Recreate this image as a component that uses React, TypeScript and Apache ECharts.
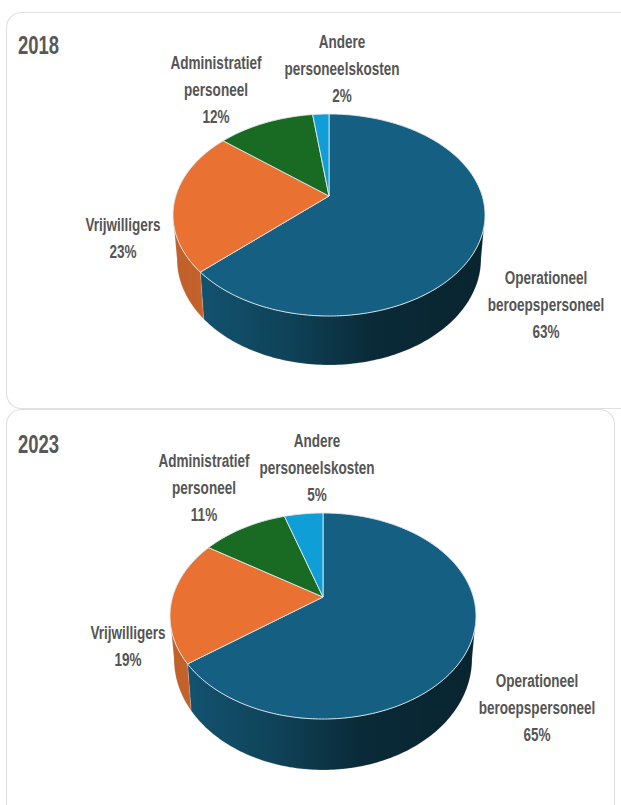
import React, { useEffect, useRef } from "react";
import * as echarts from "echarts";

const categories = [
  "Operationeel\nberoepspersoneel",
  "Vrijwilligers",
  "Administratief\npersoneel",
  "Andere\npersoneelskosten",
];
const values2018 = [63, 23, 12, 2];
const values2023 = [65, 19, 11, 5];
const topColors = ["#156082", "#E97132", "#196B24", "#0F9ED5"];
const FONT = "'Liberation Sans Narrow', 'Liberation Sans', sans-serif";

const geo2018 = {
  cx: 329, cy: 215, rx: 156, ry: 101, vy: 196, s: 0.63,
  bcy: 259, brx: 152, bry: 106,
  title: { text: "2018", x: 18, y: 45 },
  labels: [[546, 305], [123, 238], [216, 90], [342, 69]],
};
const geo2023 = {
  cx: 323, cy: 616, rx: 153, ry: 103, vy: 597, s: 0.68,
  bcy: 659, brx: 149, bry: 111,
  title: { text: "2023", x: 18, y: 444 },
  labels: [[537, 708], [128, 646], [204, 488], [317, 468]],
};

function sideFill(i: number) {
  if (i === 0)
    return new echarts.graphic.LinearGradient(0, 0, 1, 0, [
      { offset: 0, color: "#13526f" },
      { offset: 0.3, color: "#0f4359" },
      { offset: 0.6, color: "#0a2a38" },
      { offset: 1, color: "#08242f" },
    ]);
  if (i === 1)
    return new echarts.graphic.LinearGradient(0, 0, 1, 0, [
      { offset: 0, color: "#c0602c" },
      { offset: 1, color: "#c5622a" },
    ]);
  return i === 2 ? "#124d1a" : "#0b7299";
}

function angles(values: number[], g: typeof geo2018) {
  const total = values.reduce((a, b) => a + b, 0);
  const phiAt = (frac: number) => {
    const th = frac * Math.PI * 2;
    const dx = Math.sin(th) / g.rx;
    const dy = (-Math.cos(th) * g.s) / g.ry;
    const oy = (g.vy - g.cy) / g.ry;
    const A = dx * dx + dy * dy;
    const B = 2 * oy * dy;
    const C = oy * oy - 1;
    const t = (-B + Math.sqrt(B * B - 4 * A * C)) / (2 * A);
    return Math.atan2(oy + t * dy, t * dx);
  };
  const out: number[] = [];
  let acc = 0;
  let prev = -Math.PI / 2;
  out.push(prev);
  values.forEach((v) => {
    acc += v;
    let p = phiAt(acc / total);
    while (p < prev - 1e-6) p += Math.PI * 2;
    out.push(acc === total ? Math.PI * 1.5 : p);
    prev = p;
  });
  return out;
}

function arcPts(cx: number, cy: number, rx: number, ry: number, a: number, b: number) {
  const n = Math.max(2, Math.ceil(Math.abs(b - a) / 0.02));
  const pts: number[][] = [];
  for (let i = 0; i <= n; i++) {
    const f = a + ((b - a) * i) / n;
    pts.push([cx + rx * Math.cos(f), cy + ry * Math.sin(f)]);
  }
  return pts;
}

function seriesFor(values: number[], g: typeof geo2018) {
  const phis = angles(values, g);
  const rows = values.map((v, i) => ({ name: categories[i], value: [v, i] }));
  const sides = {
    type: "custom",
    coordinateSystem: "none",
    silent: true,
    z: 2,
    data: rows,
    renderItem: (_p: any, api: any) => {
      const i = api.value(1);
      const a = Math.max(phis[i], 0);
      const b = Math.min(phis[i + 1], Math.PI);
      if (b <= a) return { type: "group", children: [] };
      const top = arcPts(g.cx, g.cy, g.rx, g.ry, a, b);
      const bot = arcPts(g.cx, g.bcy, g.brx, g.bry, a, b).reverse();
      return {
        type: "polygon",
        shape: { points: top.concat(bot) },
        style: { fill: sideFill(i), stroke: "rgba(255,255,255,0.35)", lineWidth: 0.5 },
      };
    },
  };
  const tops = {
    type: "custom",
    coordinateSystem: "none",
    silent: true,
    z: 3,
    data: rows,
    renderItem: (_p: any, api: any) => {
      const i = api.value(1);
      const pts = [[g.cx, g.vy] as number[]].concat(
        arcPts(g.cx, g.cy, g.rx, g.ry, phis[i], phis[i + 1])
      );
      return {
        type: "group",
        children: [
          {
            type: "polygon",
            shape: { points: pts },
            style: { fill: topColors[i], stroke: "#dfe8ec", lineWidth: 0.9 },
          },
          {
            type: "text",
            x: g.labels[i][0],
            y: g.labels[i][1],
            scaleX: 0.82,
            scaleY: 1.1,
            style: {
              text: `${categories[i]}\n${api.value(0)}%`,
              fontFamily: FONT,
              fontWeight: "bold",
              fontSize: 16.5,
              lineHeight: 24.5,
              fill: "#555555",
              align: "center",
              verticalAlign: "middle",
            },
          },
        ],
      };
    },
  };
  return [sides, tops];
}

function titleEl(g: typeof geo2018) {
  return {
    type: "text",
    x: g.title.x,
    y: g.title.y,
    scaleX: 0.82,
    scaleY: 1.15,
    z: 5,
    style: {
      text: g.title.text,
      fontFamily: FONT,
      fontWeight: "bold",
      fontSize: 22.5,
      fill: "#595959",
      align: "left",
      verticalAlign: "middle",
    },
  };
}

export default function App() {
  const ref = useRef<HTMLDivElement>(null);
  useEffect(() => {
    const chart = echarts.init(ref.current!, null, { renderer: "svg" });
    chart.setOption({
      animation: false,
      backgroundColor: "#ffffff",
      graphic: [
        {
          type: "rect",
          z: 0,
          shape: { x: 6.5, y: 12.5, width: 630, height: 396, r: 15 },
          style: { fill: "#ffffff", stroke: "#e0e0e0", lineWidth: 1.2 },
        },
        {
          type: "rect",
          z: 0,
          shape: { x: 6.5, y: 409.5, width: 608, height: 420, r: 15 },
          style: { fill: "#ffffff", stroke: "#e0e0e0", lineWidth: 1.2 },
        },
        titleEl(geo2018),
        titleEl(geo2023),
      ],
      series: [...seriesFor(values2018, geo2018), ...seriesFor(values2023, geo2023)],
    });
    return () => chart.dispose();
  }, []);
  return <div ref={ref} style={{ position: "absolute", left: 0, top: 0, width: 621, height: 805 }} />;
}
